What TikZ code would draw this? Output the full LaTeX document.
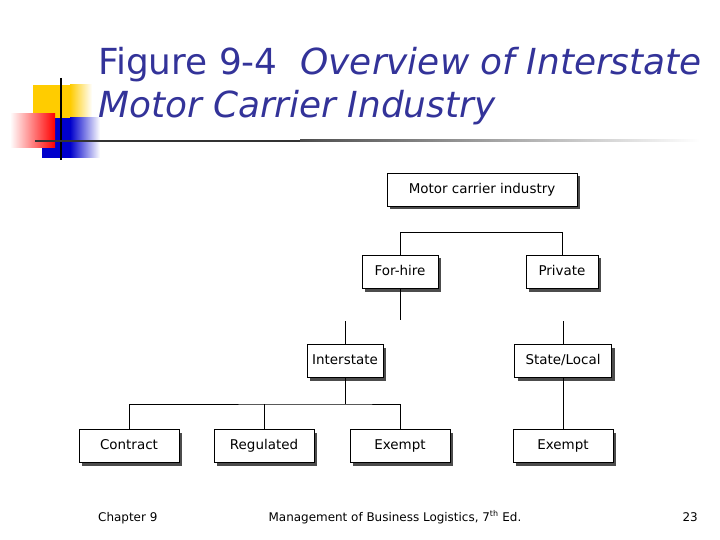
\documentclass[tikz,border=0pt]{standalone}
\usepackage{fontspec}
\setmainfont{DejaVu Sans}
\usetikzlibrary{shadows}
\definecolor{ttl}{RGB}{51,51,153}
\definecolor{gold}{RGB}{255,204,0}
\begin{document}
\begin{tikzpicture}[x=1bp,y=-1bp,
  box/.style={draw=black,line width=0.8pt,fill=white,minimum height=33bp,inner sep=0pt,text height=10bp,text depth=3bp,font=\fontsize{13.5}{16}\selectfont,
    drop shadow={shadow xshift=3bp,shadow yshift=-3bp,fill=black!70,opacity=1}},
  ln/.style={line width=0.8pt}]
\useasboundingbox (0,0) rectangle (720,540);
% logo
\fill[gold] (33,85) rectangle (70,130);
\shade[left color=gold,right color=white] (70,85) rectangle (92,130);
\fill[blue!80!black] (42,118) rectangle (70,158);
\shade[left color=blue!80!black,right color=white] (70,118) rectangle (100,158);
\shade[left color=white,right color=red] (10,114) rectangle (55,148);
\draw[line width=2pt] (61,78) -- (61,160);
\draw[line width=2pt,black!80] (35,141) -- (300,141);
\shade[left color=black!70,right color=white] (300,140) rectangle (700,142);
% title
\node[anchor=base west,text=ttl,font=\fontsize{36}{42}\selectfont,inner sep=0] (t1) at (98,75) {Figure 9-4\ \ \textit{Overview of Interstate}};
\node[anchor=base west,text=ttl,font=\fontsize{36}{42}\selectfont\itshape,inner sep=0] (t2) at (98,118) {Motor Carrier Industry};
% boxes
\node[box,minimum width=190bp] (mci) at (482,190) {Motor carrier industry};
\node[box,minimum width=76bp] (fh) at (400,272) {For-hire};
\node[box,minimum width=72bp] (pr) at (562,272) {Private};
\node[box,minimum width=76bp] (is) at (345,361) {Interstate};
\node[box,minimum width=97bp] (sl) at (563,361) {State/Local};
\node[box,minimum width=100bp] (co) at (129,446) {Contract};
\node[box,minimum width=100bp] (re) at (264,446) {Regulated};
\node[box,minimum width=100bp] (ex) at (400,446) {Exempt};
\node[box,minimum width=100bp] (ex2) at (563,446) {Exempt};
% connectors
\coordinate (j1) at (400,232); \coordinate (j2) at (562,232);
\draw[ln] (fh.north) -- (j1) -- (j2) -- (pr.north);
\coordinate (f1) at (400,320); \coordinate (i1) at (345,321); \coordinate (p1) at (563,321);
\draw[ln] (fh.south) -- (f1);
\draw[ln] (i1) -- (is.north);
\draw[ln] (p1) -- (sl.north);
\coordinate (h) at (345,404);
\draw[ln] (is.south) -- (h);
\draw[ln] (co.north) |- (h) -| (ex.north);
\draw[ln] (re.north) -- (re.north |- h);
\draw[ln] (sl.south) -- (ex2.north);
% footer
\node[anchor=base west,font=\fontsize{12}{14}\selectfont,inner sep=0] (c9) at (98,521) {Chapter 9};
\node[anchor=base,font=\fontsize{12}{14}\selectfont,inner sep=0] (mb) at (395,521) {Management of Business Logistics, 7\textsuperscript{th} Ed.};
\node[anchor=base east,font=\fontsize{12}{14}\selectfont,inner sep=0] (pg) at (698,521) {23};
\end{tikzpicture}
\end{document}
